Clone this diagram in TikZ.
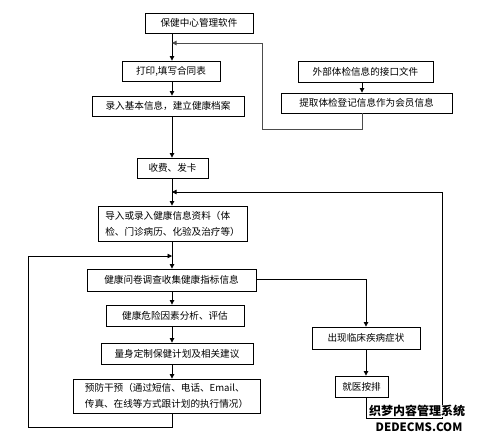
\documentclass[tikz,border=0pt]{standalone}
\usepackage{fontspec}
\newfontfamily\cjk{Noto Sans CJK SC}
\usetikzlibrary{arrows.meta,calc}
\tikzset{
  box/.style={draw=black,line width=0.9pt,fill=white,inner sep=0pt,align=center,font=\cjk\fontsize{9.6}{16}\selectfont},
  lbox/.style={box,align=left},
  conn/.style={line width=0.8pt,draw=black},
  arr/.style={conn,-{Triangle[length=4.5pt,width=4.5pt]}},
  gconn/.style={line width=0.9pt,draw=black!70}
}
\begin{document}
\begin{tikzpicture}[x=1pt,y=-1pt]
\useasboundingbox (0,0) rectangle (478,437);
\coordinate (sp) at (172,0);
\node[box,minimum width=108,minimum height=20] (b1) at (199,23) {保健中心管理软件};
\node[box,minimum width=98,minimum height=20] (b2) at (171,71) {打印,填写合同表};
\node[box,minimum width=152,minimum height=20] (b3) at (168,106) {录入基本信息，建立健康档案};
\node[box,minimum width=135,minimum height=21] (rA) at (365.5,71.5) {外部体检信息的接口文件};
\node[box,minimum width=171,minimum height=20] (rB) at (366.5,103) {提取体检登记信息作为会员信息};
\node[box,minimum width=71,minimum height=20] (b4) at (172.5,168) {收费、发卡};
\node[lbox,minimum width=149,minimum height=35] (b5) at (172.5,223.5) {导入或录入健康信息资料（体\\检、门诊病历、化验及治疗等）};
\node[box,minimum width=169,minimum height=22] (b6) at (171.5,280) {健康问卷调查收集健康指标信息};
\node[box,minimum width=138,minimum height=21] (b7) at (175,315.5) {健康危险因素分析、评估};
\node[box,minimum width=152,minimum height=21] (b8) at (177,353.5) {量身定制保健计划及相关建议};
\node[lbox,minimum width=187,minimum height=34] (b9) at (166.5,396) {预防干预（通过短信、电话、Email、\\传真、在线等方式跟计划的执行情况）};
\node[box,minimum width=108,minimum height=22] (c1) at (366,338) {出现临床疾病症状};
\node[box,minimum width=53,minimum height=21] (c2) at (361.5,386.5) {就医按排};
% spine
\coordinate (sp2) at (362,0);
\coordinate (sp3) at (366,0);
\draw[arr] (b1.south -| sp) -- (b2.north -| sp);
\draw[arr] (b2.south -| sp) -- (b3.north -| sp);
\draw[arr] (b3.south -| sp) -- (b4.north -| sp);
\draw[arr] (b4.south -| sp) -- (b5.north -| sp);
\draw[arr] (b5.south -| sp) -- (b6.north -| sp);
\draw[arr] (b6.south -| sp) -- (b7.north -| sp);
\draw[arr] (b7.south -| sp) -- (b8.north -| sp);
\draw[arr] (b8.south -| sp) -- (b9.north -| sp);
\draw[arr] (rA.south -| sp2) -- (rB.north -| sp2);
% top feedback
\coordinate (f1) at (362,129);
\coordinate (f2) at (262,129);
\coordinate (f3) at (262,43);
\coordinate (f4) at (172,43);
\draw[gconn,-{Triangle[length=4.5pt,width=4.5pt]}] (rB.south -| sp2) -- (f1) -- (f2) -- (f3) -- (f4);
% clinical branch
\coordinate (g1) at (366,279);
\draw[arr] (b6.east |- g1) -- (g1) -- (c1.north -| sp3);
\draw[arr] (c1.south -| sp3) -- (c2.north -| sp3);
\coordinate (h1) at (366,418);
\coordinate (h2) at (442,418);
\coordinate (h3) at (442,192);
\coordinate (h4) at (172,192);
\draw[arr] (c2.south -| sp3) -- (h1) -- (h2) -- (h3) -- (h4);
% loop
\coordinate (k1) at (172,427);
\coordinate (k2) at (28,427);
\coordinate (k3) at (28,256);
\coordinate (k4) at (172,256);
\draw[arr] (b9.south -| sp) -- (k1) -- (k2) -- (k3) -- (k4);
% watermark
\node[inner sep=0.5pt,fill=white,font=\cjk\bfseries\fontsize{12}{12}\selectfont] (wm1) at (417,411) {织梦内容管理系统};
\node[inner sep=0.5pt,fill=white,font=\cjk\bfseries\fontsize{11.5}{12}\selectfont] (wm2) at (419,427) {DEDECMS.COM};
\end{tikzpicture}
\end{document}
